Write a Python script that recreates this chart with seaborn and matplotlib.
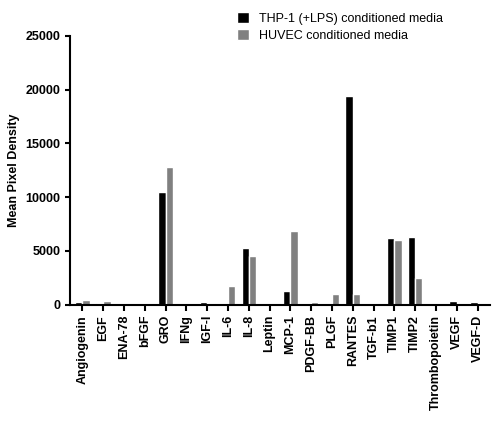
import pandas as pd
import matplotlib.pyplot as plt
import seaborn as sns

# Cytokine array values
cytokines = ["Angiogenin", "EGF", "ENA-78", "bFGF", "GRO", "IFNg", "IGF-I", "IL-6", "IL-8",
             "Leptin", "MCP-1", "PDGF-BB", "PLGF", "RANTES", "TGF-b1", "TIMP1", "TIMP2",
             "Thrombopoietin", "VEGF", "VEGF-D"]
thp1 = [200, 100, 80, 80, 10450, 0, 200, 0, 5250, 80, 1300, 80, 80, 19400, 80, 6150, 6250, 50, 350, 250]
huvec = [400, 350, 50, 0, 12800, 0, 150, 1700, 4500, 80, 6800, 200, 1000, 950, 80, 6050, 2500, 30, 80, 150]
series = ["THP-1 (+LPS) conditioned media", "HUVEC conditioned media"]

df = pd.DataFrame({"cytokine": cytokines * 2,
                   "value": thp1 + huvec,
                   "media": [series[0]] * len(cytokines) + [series[1]] * len(cytokines)})

sns.set_style("ticks", {"text.color": "black", "axes.labelcolor": "black",
                        "xtick.color": "black", "ytick.color": "black", "axes.edgecolor": "black"})
plt.rcParams['font.family'] = ['Liberation Sans', 'DejaVu Sans']
fig = plt.figure(figsize=(5, 4.23), dpi=100)
ax = fig.add_axes([0.14, 0.28, 0.84, 0.635])

sns.barplot(data=df, x="cytokine", y="value", hue="media", palette=["black", "#808080"],
            width=0.7, ax=ax, legend=True)

ax.set_ylim(0, 25000)
ax.set_yticks(range(0, 25001, 5000))
ax.set_xlim(-0.6, len(cytokines) - 0.4)
ax.set_xlabel("")
ax.set_ylabel("Mean Pixel Density", fontsize=9, fontweight="bold")
ax.tick_params(axis="x", rotation=90, labelsize=9, length=4, width=1.5)
ax.tick_params(axis="y", labelsize=9, width=1.5)
for lab in ax.get_xticklabels() + ax.get_yticklabels():
    lab.set_fontweight("bold")
for s in ["left", "bottom"]:
    ax.spines[s].set_linewidth(1.5)
sns.despine(ax=ax)

ax.legend(loc="lower left", bbox_to_anchor=(0.385, 0.96), frameon=False, fontsize=9,
          handlelength=1.0, handleheight=1.0, borderaxespad=0, labelspacing=0.3)

fig.savefig("out.png", dpi=100)
